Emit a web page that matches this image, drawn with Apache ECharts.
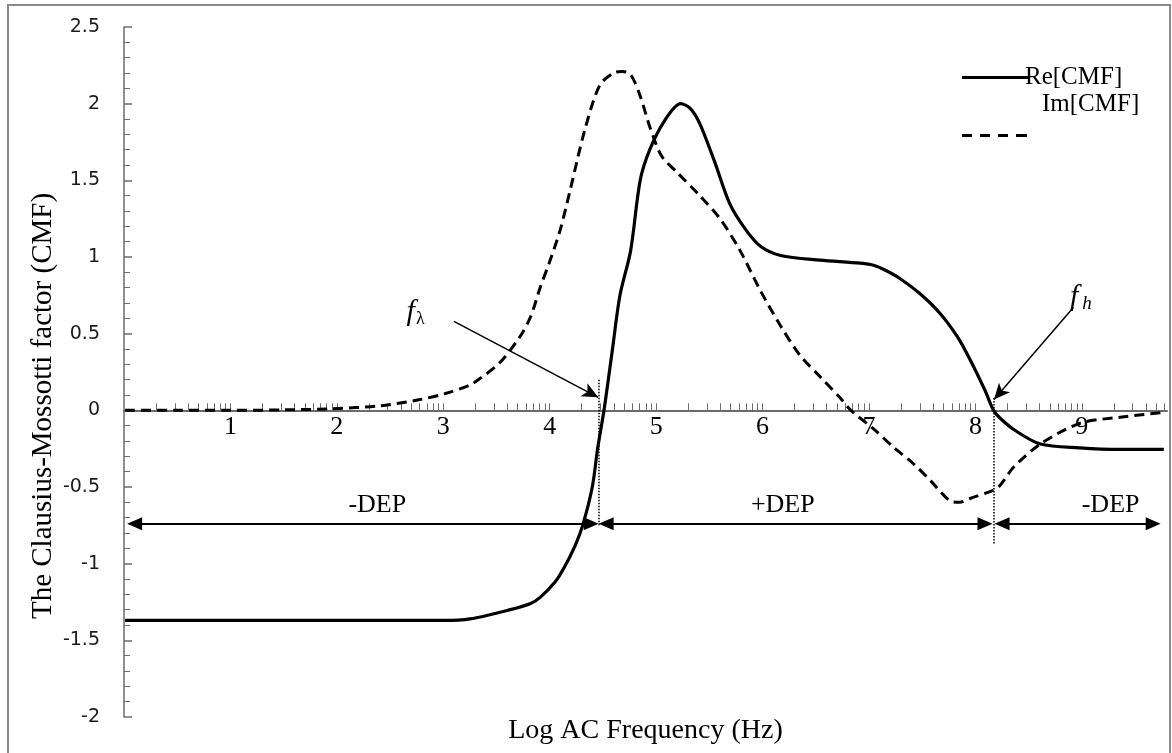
<!DOCTYPE html>
<html><head><meta charset="utf-8">
<script src="https://cdn.jsdelivr.net/npm/echarts@6/dist/echarts.min.js"></script>
<style>html,body{margin:0;padding:0;background:#fff}#c{width:1172px;height:753px}</style>
</head><body><div id="c"></div>
<script>
// ---- data (log10 frequency vs CMF) ----
const RE_X = [0.01,1.0,2.0,3.0,3.25,3.63,3.82,3.91,4.05,4.14,4.24,4.31,4.40,4.45,4.51,4.59,4.66,4.76,4.85,4.94,5.08,5.23,5.32,5.41,5.55,5.69,5.84,5.98,6.17,6.54,6.92,7.05,7.15,7.29,7.48,7.67,7.83,7.95,8.09,8.17,8.23,8.37,8.61,8.98,9.36,9.77];
const RE_Y = [-1.37,-1.37,-1.37,-1.37,-1.36,-1.30,-1.26,-1.22,-1.12,-1.02,-0.88,-0.75,-0.50,-0.25,0.00,0.40,0.75,1.04,1.50,1.70,1.89,2.00,1.97,1.87,1.62,1.35,1.18,1.07,1.01,0.98,0.96,0.945,0.915,0.86,0.76,0.63,0.48,0.33,0.13,0.00,-0.05,-0.13,-0.22,-0.245,-0.255,-0.255];
const IM_X = [0.01,0.5,1.0,1.5,1.94,2.41,2.78,3.02,3.25,3.35,3.53,3.72,3.82,3.91,4.00,4.10,4.19,4.33,4.47,4.60,4.68,4.76,4.85,4.94,5.05,5.20,5.41,5.60,5.79,5.98,6.17,6.35,6.54,6.73,6.83,7.04,7.23,7.42,7.58,7.76,7.85,7.95,8.17,8.23,8.36,8.61,8.98,9.36,9.77];
const IM_Y = [0,0,0,0.003,0.01,0.03,0.07,0.11,0.165,0.21,0.31,0.48,0.61,0.80,0.97,1.18,1.43,1.83,2.12,2.20,2.21,2.19,2.05,1.85,1.66,1.55,1.40,1.25,1.04,0.78,0.55,0.36,0.22,0.08,0.00,-0.12,-0.24,-0.35,-0.46,-0.59,-0.60,-0.575,-0.52,-0.49,-0.37,-0.22,-0.085,-0.045,-0.013];
const X_LABELS = [1,2,3,4,5,6,7,8,9];
const X_DECADES = [0,1,2,3,4,5,6,7,8,9];
const LOG_STEPS = [1,2,3,4,5,6,7,8,9];
const Y_MIN = -2, Y_MAX = 2.5, Y_STEP = 0.5;
const X_MIN = 0, X_MAX = 9.8;
// annotation anchors (data space)
const F_LAMBDA = 4.46, F_H = 8.17, DEP_Y = -0.74;
const REGIONS = [
  {from: 0.1, to: 4.39, label: '-DEP', at: 2.38},
  {from: 4.53, to: 8.09, label: '+DEP', at: 6.19},
  {from: 8.25, to: 9.67, label: '-DEP', at: 9.27}
];

const serif = "'Liberation Serif','Times New Roman',serif";
const zip = (xs, ys) => xs.map((x, i) => [x, ys[i]]);
const logTicks = [];
X_DECADES.forEach(d => LOG_STEPS.forEach(k => {
  const v = d + Math.log10(k);
  if (v > X_MIN && v <= X_MAX) logTicks.push(+v.toFixed(4));
}));

const chart = echarts.init(document.getElementById('c'), null, {renderer: 'canvas'});

const markLines = [];
REGIONS.forEach(r => markLines.push([
  {coord: [r.from, DEP_Y], symbol: 'triangle', symbolSize: [13, 15], lineStyle: {type: 'solid', width: 2}},
  {coord: [r.to, DEP_Y], symbol: 'triangle', symbolSize: [13, 15]}
]));
markLines.push([
  {coord: [F_LAMBDA, 0.2], symbol: 'none', lineStyle: {type: 'dotted', width: 1.5}},
  {coord: [F_LAMBDA, -0.75], symbol: 'none'}
]);
markLines.push([
  {coord: [F_H, 0.08], symbol: 'none', lineStyle: {type: 'dotted', width: 1.5}},
  {coord: [F_H, -0.87], symbol: 'none'}
]);
markLines.push([
  {coord: [3.10, 0.58], symbol: 'none', lineStyle: {type: 'solid', width: 1.5}},
  {coord: [4.455, 0.085], symbol: 'arrow', symbolSize: [11, 16]}
]);
markLines.push([
  {coord: [8.92, 0.67], symbol: 'none', lineStyle: {type: 'solid', width: 1.5}},
  {coord: [8.175, 0.07], symbol: 'arrow', symbolSize: [11, 16]}
]);

const textPts = REGIONS.map(r => ({
  coord: [r.at, -0.62], symbol: 'circle', symbolSize: 0,
  label: {show: true, position: 'inside', formatter: r.label, fontFamily: serif, fontSize: 26, color: '#000'}
}));
const rich = {
  a: {fontFamily: serif, fontStyle: 'italic', fontSize: 30, color: '#000', lineHeight: 34},
  b: {fontFamily: serif, fontSize: 18, color: '#000', lineHeight: 34, padding: [14, 0, 0, 1]},
  c: {fontFamily: serif, fontStyle: 'italic', fontSize: 19, color: '#000', lineHeight: 34, padding: [14, 0, 0, 4]}
};
textPts.push({coord: [2.74, 0.64], symbol: 'circle', symbolSize: 0,
  label: {show: true, position: 'inside', formatter: '{a|f}{b|λ}', rich}});
textPts.push({coord: [8.99, 0.74], symbol: 'circle', symbolSize: 0,
  label: {show: true, position: 'inside', formatter: '{a|f}{c|h}', rich}});

const SOLID_ICON = 'path://M0,0h66v3h-66z';
const DASH_ICON = 'path://M0,0h10v3h-10zM18,0h10v3h-10zM36,0h10v3h-10zM54,0h11v3h-11z';

chart.setOption({
  animation: false,
  backgroundColor: '#fff',
  grid: {left: 124, right: 5, top: 27, bottom: 36, containLabel: false, outerBoundsMode: 'none'},
  graphic: [{
    type: 'rect', silent: true, z: -10,
    shape: {x: 8, y: 5, width: 1162, height: 780},
    style: {fill: 'none', stroke: '#8a8a8a', lineWidth: 2}
  }],
  legend: [
    {data: [{name: 'Re[CMF]', icon: SOLID_ICON}], left: 957, top: 60, itemWidth: 66, itemHeight: 3, selectedMode: false,
     textStyle: {fontFamily: serif, fontSize: 25, color: '#000', padding: [0, 0, 0, -8]}},
    {data: [{name: 'Im[CMF]', icon: 'none'}], left: 1030, top: 87, itemWidth: 2, itemHeight: 14, selectedMode: false,
     textStyle: {fontFamily: serif, fontSize: 25, color: '#000'}},
    {data: [{name: 'Im[CMF]', icon: DASH_ICON}], left: 957, top: 129, itemWidth: 65, itemHeight: 3, selectedMode: false,
     formatter: () => '', textStyle: {fontSize: 1}}
  ],
  xAxis: {
    type: 'value', min: X_MIN, max: X_MAX,
    name: 'Log AC Frequency (Hz)', nameLocation: 'middle', nameGap: 0,
    nameTextStyle: {fontFamily: serif, fontSize: 28, color: '#000'},
    axisLine: {onZero: true, lineStyle: {color: '#6b6b6b', width: 2}},
    axisTick: {show: true, inside: true, length: 7, customValues: logTicks, lineStyle: {color: '#6b6b6b', width: 1}},
    axisLabel: {customValues: X_LABELS, margin: -303, fontFamily: serif, fontSize: 26, color: '#000'},
    splitLine: {show: false}
  },
  yAxis: {
    type: 'value', min: Y_MIN, max: Y_MAX, interval: Y_STEP,
    name: 'The Clausius-Mossotti factor (CMF)', nameLocation: 'middle', nameGap: 66, nameRotate: 90,
    nameMoveOverlap: false,
    nameTextStyle: {fontFamily: serif, fontSize: 29, color: '#000', padding: [0, 68, 0, 0]},
    axisLine: {show: true, onZero: false, lineStyle: {color: '#6b6b6b', width: 1.5}},
    axisTick: {show: true, inside: true, length: 8, lineStyle: {color: '#6b6b6b', width: 1.5}},
    minorTick: {show: true, splitNumber: 5, length: 6, lineStyle: {color: '#6b6b6b', width: 1}},
    axisLabel: {margin: 24, fontFamily: "'DejaVu Sans',sans-serif", fontSize: 19, color: '#1a1a1a'},
    splitLine: {show: false}
  },
  series: [
    {
      name: 'Re[CMF]', type: 'line', data: zip(RE_X, RE_Y),
      smooth: 0.3, symbol: 'none', z: 3,
      lineStyle: {color: '#000', width: 3.2}, itemStyle: {color: '#000'},
      markLine: {silent: true, animation: false, label: {show: false},
        lineStyle: {color: '#000'}, emphasis: {disabled: true}, data: markLines},
      markPoint: {silent: true, animation: false, data: textPts}
    },
    {
      name: 'Im[CMF]', type: 'line', data: zip(IM_X, IM_Y),
      smooth: 0.3, symbol: 'none', z: 2,
      lineStyle: {color: '#000', width: 3, type: [10, 6]}, itemStyle: {color: '#000'}
    }
  ]
});
</script></body></html>
